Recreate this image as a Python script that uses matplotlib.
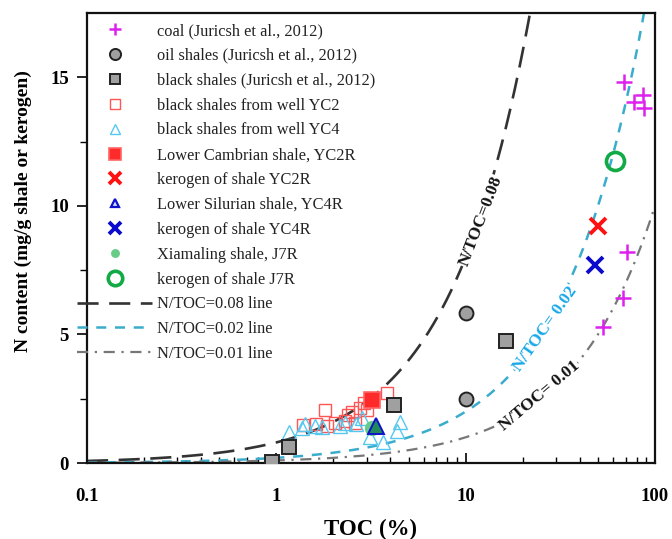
import numpy as np
import matplotlib
matplotlib.use("Agg")
import matplotlib.pyplot as plt
from matplotlib.legend_handler import HandlerLine2D

plt.rcParams['font.family'] = ['Liberation Serif', 'DejaVu Serif']
plt.rcParams['mathtext.fontset'] = 'stix'

# ---- data: TOC (%) and N content (mg/g) ----
coal_toc = [68.6, 86.4, 77.4, 87.5, 71.1, 67.7, 53.1]
coal_n = [14.8, 14.3, 14.05, 13.8, 8.2, 6.4, 5.3]

oil_toc = [10.0, 10.0]
oil_n = [5.85, 2.5]

bshale_toc = [16.3, 4.2, 1.17, 0.95]
bshale_n = [4.75, 2.25, 0.62, 0.05]

yc2_toc = [1.39, 1.62, 1.80, 1.85, 2.05, 2.30, 2.40, 2.50, 2.60, 2.75, 2.90, 3.00, 3.85]
yc2_n = [1.47, 1.50, 2.05, 1.42, 1.55, 1.65, 1.85, 2.00, 1.55, 2.15, 2.35, 2.05, 2.72]

yc4_toc = [1.16, 1.36, 1.42, 1.61, 1.75, 2.18, 2.30, 2.62, 2.85, 3.14, 3.68, 4.32, 4.52]
yc4_n = [1.20, 1.35, 1.50, 1.45, 1.40, 1.45, 1.55, 1.50, 1.75, 1.00, 0.80, 1.25, 1.58]

yc2r_toc, yc2r_n = [3.22], [2.45]
kero_yc2r_toc, kero_yc2r_n = [49.9], [9.2]
yc4r_toc, yc4r_n = [3.38], [1.42]
kero_yc4r_toc, kero_yc4r_n = [48.2], [7.7]
j7r_toc, j7r_n = [3.22], [1.38]
kero_j7r_toc, kero_j7r_n = [61.4], [11.75]

ratios = [0.08, 0.02, 0.01]
ratio_labels = ['N/TOC=0.08 line', 'N/TOC=0.02 line', 'N/TOC=0.01 line']


class LeftMarkerHandler(HandlerLine2D):
    """Place the single legend marker near the left of the handle."""
    def get_xdata(self, legend, xdescent, ydescent, width, height, fontsize):
        xd, _ = super().get_xdata(legend, xdescent, ydescent, width, height, fontsize)
        return xd, np.array([-xdescent + 0.24 * width])


fig = plt.figure(figsize=(6.72, 5.39), dpi=100)
ax = fig.add_axes([87 / 672, 1 - 463 / 539, (655 - 87) / 672, (463 - 13) / 539])

# reference lines N = ratio * TOC (TOC in %, N in mg/g)
toc = np.logspace(-1, 2, 500)
l08, = ax.plot(toc, ratios[0] * 10 * toc, color='#333333', lw=1.9,
               dashes=(8, 4), label=ratio_labels[0], zorder=2)
l02, = ax.plot(toc, ratios[1] * 10 * toc, color='#3aaccc', lw=1.8,
               dashes=(4, 3.5), label=ratio_labels[1], zorder=2)
l01, = ax.plot(toc, ratios[2] * 10 * toc, color='#777777', lw=1.6,
               dashes=(5, 3, 1, 3), label=ratio_labels[2], zorder=2)

ms_handles = []
h = ax.plot(coal_toc, coal_n, ls='none', marker='+', ms=11, mew=1.8,
            color='#dd22ee', label='coal (Juricsh et al., 2012)', zorder=4)[0]
ms_handles.append(h)
h = ax.plot(oil_toc, oil_n, ls='none', marker='o', ms=10, mew=1.4,
            mfc='#a0a0a0', mec='#222222', label='oil shales (Juricsh et al., 2012)', zorder=4)[0]
ms_handles.append(h)
h = ax.plot(bshale_toc, bshale_n, ls='none', marker='s', ms=9.5, mew=1.4,
            mfc='#a0a0a0', mec='#222222', label='black shales (Juricsh et al., 2012)', zorder=4)[0]
ms_handles.append(h)
h = ax.plot(yc2_toc, yc2_n, ls='none', marker='s', ms=9, mew=1.0,
            mfc='none', mec='#ff5555', label='black shales from well YC2', zorder=3)[0]
ms_handles.append(h)
h = ax.plot(yc4_toc, yc4_n, ls='none', marker='^', ms=9.5, mew=1.0,
            mfc='none', mec='#55c8f0', label='black shales from well YC4', zorder=3)[0]
ms_handles.append(h)
h = ax.plot(yc2r_toc, yc2r_n, ls='none', marker='s', ms=11, mew=1.2,
            mfc='#ff2a2a', mec='#ff6666', label='Lower Cambrian shale, YC2R', zorder=5)[0]
ms_handles.append(h)
h = ax.plot(kero_yc2r_toc, kero_yc2r_n, ls='none', marker='x', ms=11, mew=2.8,
            color='#ff1111', label='kerogen of shale YC2R', zorder=5)[0]
ms_handles.append(h)
h_j7r = ax.plot(j7r_toc, j7r_n, ls='none', marker='o', ms=11, mew=0,
                mfc='#66cc88', label='Xiamaling shale, J7R', zorder=5)[0]
h = ax.plot(yc4r_toc, yc4r_n, ls='none', marker='^', ms=11, mew=1.4,
            mfc='#1f8a5a', mec='#1111cc', label='Lower Silurian shale, YC4R', zorder=6)[0]
ms_handles.append(h)
h = ax.plot(kero_yc4r_toc, kero_yc4r_n, ls='none', marker='x', ms=11, mew=2.8,
            color='#0a0acc', label='kerogen of shale YC4R', zorder=5)[0]
ms_handles.append(h)
ms_handles.append(h_j7r)
h = ax.plot(kero_j7r_toc, kero_j7r_n, ls='none', marker='o', ms=13, mew=2.6,
            mfc='none', mec='#11aa44', label='kerogen of shale J7R', zorder=5)[0]
ms_handles.append(h)

# legend entry with a lighter triangle, as in the key
leg_tri = plt.Line2D([], [], ls='none', marker='^', ms=8, mew=1.6,
                     mfc='#cfe3ff', mec='#1111cc', label='Lower Silurian shale, YC4R')
leg_j7r = plt.Line2D([], [], ls='none', marker='o', ms=8, mew=0,
                     mfc='#66cc88', label='Xiamaling shale, J7R')
handles = ms_handles[:7] + [leg_tri, ms_handles[8], leg_j7r, ms_handles[10], l08, l02, l01]
hmap = {hh: LeftMarkerHandler(numpoints=1) for hh in handles[:11]}

leg = ax.legend(handles=handles, handler_map=hmap, loc='upper left',
                bbox_to_anchor=(77 / 672, 1 - 23 / 539), bbox_transform=fig.transFigure,
                frameon=False, fontsize=11.8, borderpad=0, borderaxespad=0,
                handlelength=4.6, handletextpad=0.3, labelspacing=0.54,
                markerscale=0.8)
for t in leg.get_texts():
    t.set_color('#222222')

# rotated line annotations, sitting in gaps of the lines
box = dict(facecolor='white', edgecolor='none', pad=0.5)
ax.text(12.0, 9.4, 'N/TOC=0.08', rotation=69, fontsize=12.5, fontweight='bold',
        color='#111111', ha='center', va='center', zorder=3, bbox=box)
ax.text(26.2, 5.2, 'N/TOC= 0.02', rotation=55, fontsize=12.5, fontweight='bold',
        color='#18a8e8', ha='center', va='center', zorder=3, bbox=box)
ax.text(24.5, 2.6, 'N/TOC= 0.01', rotation=40, fontsize=12.5, fontweight='bold',
        color='#111111', ha='center', va='center', zorder=3, bbox=box)

ax.set_xscale('log')
ax.set_xlim(0.1, 100)
ax.set_ylim(0, 17.5)
ax.set_xticks([0.1, 1, 10, 100])
ax.set_xticklabels(['0.1', '1', '10', '100'])
ax.set_yticks([0, 5, 10, 15])
ax.set_yticks([2.5, 7.5, 12.5], minor=True)

ax.tick_params(axis='x', which='both', direction='in', top=False, labelsize=13.5, pad=18)
ax.tick_params(axis='x', which='major', length=7, width=1.2)
ax.tick_params(axis='x', which='minor', length=4, width=1.0)
ax.tick_params(axis='y', which='both', direction='out', right=False, labelsize=13.5, pad=6)
ax.tick_params(axis='y', which='major', length=7, width=1.2)
ax.tick_params(axis='y', which='minor', length=5, width=1.0)
for lab in ax.get_xticklabels() + ax.get_yticklabels():
    lab.set_fontweight('bold')

for sp in ax.spines.values():
    sp.set_linewidth(1.6)
    sp.set_color('#111111')

ax.set_xlabel('TOC (%)', fontsize=16.5, fontweight='bold', labelpad=10)
ax.set_ylabel('N content (mg/g shale or kerogen)', fontsize=14, fontweight='bold')
ax.yaxis.set_label_coords(-0.097, 0.56)

fig.savefig('out.png', dpi=100)
